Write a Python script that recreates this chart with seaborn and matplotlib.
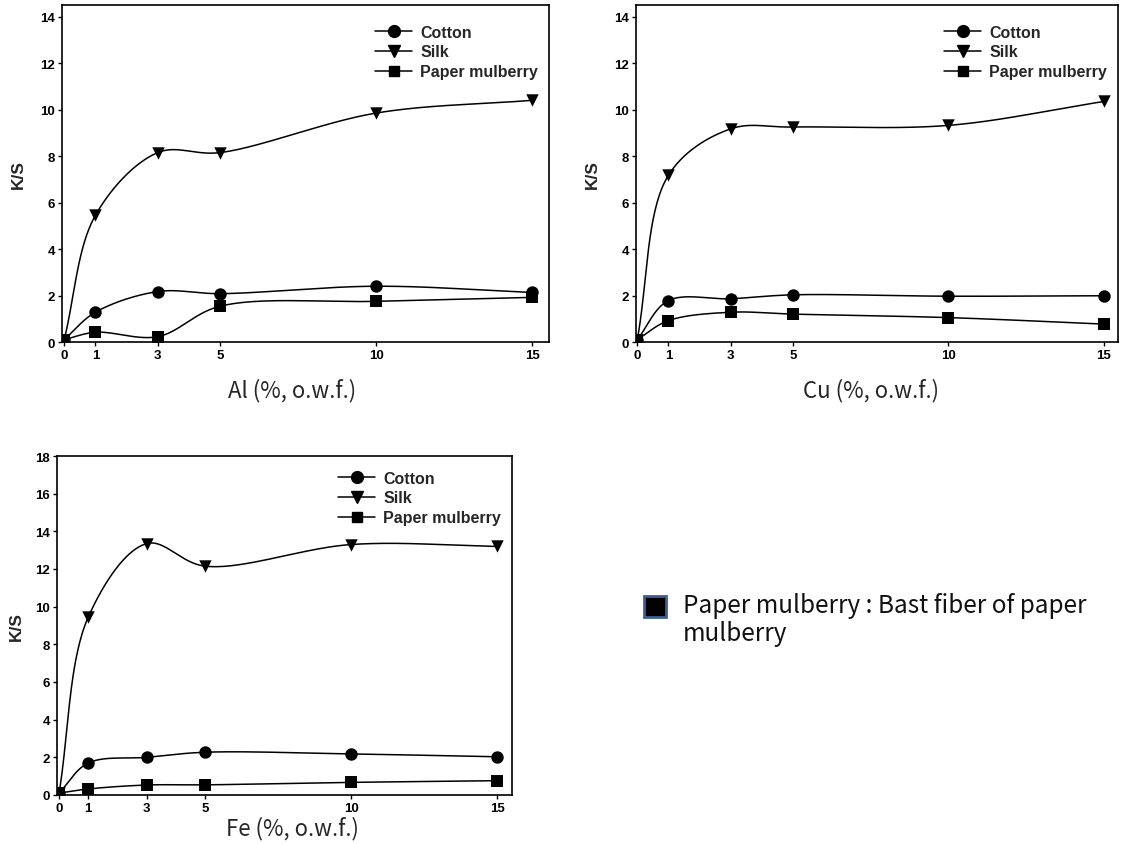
import numpy as np
import matplotlib
matplotlib.use("Agg")
import matplotlib.pyplot as plt
import seaborn as sns
from matplotlib.lines import Line2D
from matplotlib.patches import Rectangle

# ---------------- data ----------------
conc = [0, 1, 3, 5, 10, 15]
x_ticks = [0, 1, 3, 5, 10, 15]
series_names = ["Cotton", "Silk", "Paper mulberry"]

al_cotton = [0.1, 1.28, 2.17, 2.08, 2.40, 2.13]
al_silk = [0.1, 5.45, 8.15, 8.15, 9.85, 10.40]
al_paper = [0.1, 0.42, 0.23, 1.54, 1.75, 1.92]

cu_cotton = [0.1, 1.78, 1.86, 2.03, 1.97, 1.99]
cu_silk = [0.1, 7.17, 9.17, 9.25, 9.32, 10.35]
cu_paper = [0.1, 0.92, 1.28, 1.20, 1.05, 0.77]

fe_cotton = [0.1, 1.70, 2.00, 2.27, 2.18, 2.03]
fe_silk = [0.1, 9.45, 13.35, 12.15, 13.30, 13.20]
fe_paper = [0.1, 0.32, 0.53, 0.54, 0.67, 0.76]

panels = [
    ("Al (%, o.w.f.)", [al_cotton, al_silk, al_paper], 14.5, [0, 2, 4, 6, 8, 10, 12, 14]),
    ("Cu (%, o.w.f.)", [cu_cotton, cu_silk, cu_paper], 14.5, [0, 2, 4, 6, 8, 10, 12, 14]),
    ("Fe (%, o.w.f.)", [fe_cotton, fe_silk, fe_paper], 18.0, [0, 2, 4, 6, 8, 10, 12, 14, 16, 18]),
]
markers = ["o", "v", "s"]
note_text_1 = "Paper mulberry : Bast fiber of paper"
note_text_2 = "mulberry"


def smooth(x, y, sx, sy, num=60, alpha=0.5):
    """Centripetal Catmull-Rom curve through the points, computed in
    screen-like scaled space (drawing of the connecting curve only)."""
    P = np.column_stack([np.asarray(x, float) * sx, np.asarray(y, float) * sy])
    P = np.vstack([2 * P[0] - P[1], P, 2 * P[-1] - P[-2]])
    out = []
    for i in range(1, len(P) - 2):
        p0, p1, p2, p3 = P[i - 1], P[i], P[i + 1], P[i + 2]
        t0 = 0.0
        t1 = t0 + np.linalg.norm(p1 - p0) ** alpha
        t2 = t1 + np.linalg.norm(p2 - p1) ** alpha
        t3 = t2 + np.linalg.norm(p3 - p2) ** alpha
        t = np.linspace(t1, t2, num)[:, None]
        a1 = (t1 - t) / (t1 - t0) * p0 + (t - t0) / (t1 - t0) * p1
        a2 = (t2 - t) / (t2 - t1) * p1 + (t - t1) / (t2 - t1) * p2
        a3 = (t3 - t) / (t3 - t2) * p2 + (t - t2) / (t3 - t2) * p3
        b1 = (t2 - t) / (t2 - t0) * a1 + (t - t0) / (t2 - t0) * a2
        b2 = (t3 - t) / (t3 - t1) * a2 + (t - t1) / (t3 - t1) * a3
        c = (t2 - t) / (t2 - t1) * b1 + (t - t1) / (t2 - t1) * b2
        out.append(c if i == 1 else c[1:])
    C = np.vstack(out)
    return C[:, 0] / sx, C[:, 1] / sy


sns.set_theme(style="ticks")
plt.rcParams["font.family"] = ["Liberation Sans", "DejaVu Sans"]

fig = plt.figure(figsize=(11.23, 8.45), dpi=100)
rects = [
    [62 / 1123, (845 - 343) / 845, 487 / 1123, 337 / 845],
    [636 / 1123, (845 - 343) / 845, 482 / 1123, 337 / 845],
    [57 / 1123, (845 - 796) / 845, 455 / 1123, 339 / 845],
]
xlims = [(-0.07, 15.54), (-0.04, 15.45), (-0.07, 15.5)]
xlabel_pos = [(0.472, -0.142), (0.4875, -0.142), (0.518, -0.097)]
legend_anchor = [(1.0, 0.975), (1.0, 0.975), (1.0, 0.99)]
label_fam = ["Noto Sans CJK KR", "DejaVu Sans"]

for k, (xlabel, data, ytop, yticks) in enumerate(panels):
    ax = fig.add_axes(rects[k])
    w_px = rects[k][2] * 1123
    h_px = rects[k][3] * 845
    sx = w_px / (xlims[k][1] - xlims[k][0])
    sy = h_px / ytop
    for vals, mk in zip(data, markers):
        xs, ys = smooth(conc, vals, sx, sy)
        sns.lineplot(x=xs, y=ys, ax=ax, color="black", linewidth=1.1, sort=False, estimator=None)
        sns.scatterplot(x=conc, y=vals, ax=ax, marker=mk, s=80, color="black",
                        edgecolor="black", linewidth=0, zorder=5)
    ax.set_xlim(*xlims[k])
    ax.set_ylim(0, ytop)
    ax.set_xticks(x_ticks)
    ax.set_yticks(yticks)
    ax.set_xticklabels([str(t) for t in x_ticks], fontsize=9.5, fontweight="bold")
    ax.set_yticklabels([str(t) for t in yticks], fontsize=9.5, fontweight="bold")
    ax.tick_params(direction="out", length=3, width=1, pad=2, colors="black")
    for s in ax.spines.values():
        s.set_visible(True)
        s.set_color("black")
        s.set_linewidth(1.2)
    ax.set_xlabel(xlabel, fontsize=16, family=label_fam, va="center")
    ax.xaxis.set_label_coords(*xlabel_pos[k])
    ax.set_ylabel("K/S", fontsize=12.5, fontweight="bold", va="center")
    ax.yaxis.set_label_coords(-0.09, 0.5)
    handles = [Line2D([0], [0], color="black", lw=1.1, marker=mk, markersize=8.5 if mk != "s" else 7.5)
               for mk in markers]
    ax.legend(handles, series_names, loc="upper right", bbox_to_anchor=legend_anchor[k],
              frameon=False, prop={"weight": "bold", "size": 11.5}, handlelength=2.3,
              handletextpad=0.5, labelspacing=0.3, borderaxespad=0.3)

# note box
fig.add_artist(Rectangle((644 / 1123, (845 - 618) / 845), 22 / 1123, 21 / 845,
                         transform=fig.transFigure, facecolor="black",
                         edgecolor="#3d5f8f", linewidth=2))
fig.text(683 / 1123, 1 - 606 / 845, note_text_1, fontsize=17.5, family=label_fam,
         va="center", ha="left", color="#111111")
fig.text(683 / 1123, 1 - 634 / 845, note_text_2, fontsize=17.5, family=label_fam,
         va="center", ha="left", color="#111111")

fig.savefig("out.png", dpi=100)
